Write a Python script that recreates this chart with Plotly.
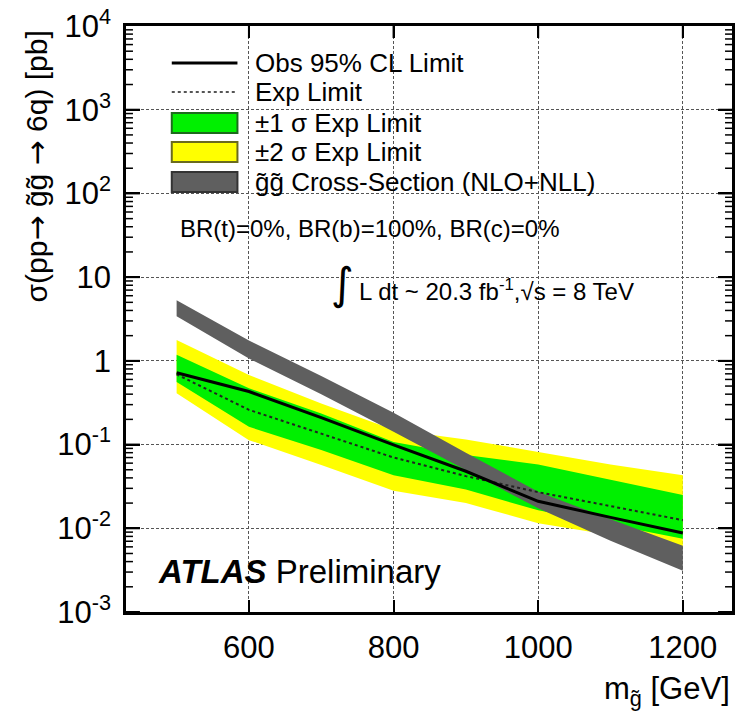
import math
import plotly.graph_objects as go

# ---------------- data ----------------
mass = [500, 600, 700, 800, 900, 1000, 1100, 1200]
obs_limit = [0.72, 0.43, 0.21, 0.099, 0.048, 0.021, 0.0135, 0.0088]
exp_limit = [0.69, 0.26, 0.135, 0.07, 0.042, 0.027, 0.0184, 0.0125]
exp_1s_up = [1.18, 0.47, 0.235, 0.107, 0.075, 0.058, 0.038, 0.025]
exp_1s_dn = [0.56, 0.163, 0.086, 0.043, 0.029, 0.0164, 0.011, 0.0075]
exp_2s_up = [1.78, 0.68, 0.31, 0.15, 0.115, 0.082, 0.058, 0.043]
exp_2s_dn = [0.41, 0.113, 0.057, 0.028, 0.020, 0.0115, 0.0083, 0.006]
xsec_up = [5.3, 1.75, 0.66, 0.24, 0.08, 0.0273, 0.0128, 0.0062]
xsec_dn = [3.4, 1.07, 0.40, 0.142, 0.05, 0.0173, 0.0071, 0.0031]

x_ticks = [600, 800, 1000, 1200]
y_ticks = [1e-3, 1e-2, 1e-1, 1, 10, 1e2, 1e3, 1e4]
y_ticktext = ["10<sup>-3</sup>", "10<sup>-2</sup>", "10<sup>-1</sup>", "1", "10",
              "10<sup>2</sup>", "10<sup>3</sup>", "10<sup>4</sup>"]

legend_labels = ["Obs 95% CL Limit", "Exp Limit", "±1 σ Exp Limit",
                 "±2 σ Exp Limit", "g̃g̃ Cross-Section (NLO+NLL)"]

FONT = "Liberation Sans, Arial, Helvetica, sans-serif"
YELLOW = "#ffff00"
GREEN = "#00f000"
GRAY = "#5f5f5f"

X_RANGE = [430, 1268]
Y_RANGE = [-3, 4]

# plot-area geometry in pixels (for placing text/legend)
W, H = 738, 713
L, R, T, B = 126, 735, 26, 612


def px(x):
    return (x - L) / (R - L)


def py(y):
    return (B - y) / (B - T)


def band(lo, hi, color):
    return go.Scatter(x=mass + mass[::-1], y=hi + lo[::-1], fill="toself",
                      fillcolor=color, line=dict(width=0), mode="lines",
                      hoverinfo="skip", showlegend=False)


fig = go.Figure()
fig.add_trace(band(exp_2s_dn, exp_2s_up, YELLOW))
fig.add_trace(band(exp_1s_dn, exp_1s_up, GREEN))
fig.add_trace(band(xsec_dn, xsec_up, GRAY))
fig.add_trace(go.Scatter(x=mass, y=exp_limit, mode="lines",
                         line=dict(color="#222", width=2, dash="3px,3px"),
                         showlegend=False))
fig.add_trace(go.Scatter(x=mass, y=obs_limit, mode="lines",
                         line=dict(color="black", width=3), showlegend=False))

fig.update_xaxes(range=X_RANGE, tickvals=x_ticks, ticks="inside", ticklen=12,
                 tickwidth=2, tickcolor="black", showline=True, linecolor="black",
                 linewidth=2.5, mirror="allticks", showgrid=True, gridcolor="#555",
                 griddash="3px,2px", gridwidth=1, zeroline=False,
                 tickfont=dict(family=FONT, size=31, color="black"),
                 ticklabelstandoff=6)
fig.update_yaxes(type="log", range=Y_RANGE, tickvals=y_ticks, ticktext=y_ticktext,
                 ticks="inside", ticklen=14, tickwidth=2, tickcolor="black",
                 showline=True, linecolor="black", linewidth=2.5, mirror="allticks",
                 showgrid=True, gridcolor="#555", griddash="3px,2px", gridwidth=1,
                 zeroline=False, tickfont=dict(family=FONT, size=31, color="black"),
                 ticklabelstandoff=6)

shapes = []
annotations = []

# minor (and mirrored major) tick marks of the log y axis, drawn on both frame sides
pw = R - L
for e in range(Y_RANGE[0], Y_RANGE[1]):
    for k in range(1, 10):
        v = k * 10 ** e
        yp = (math.log10(v) - Y_RANGE[0]) / (Y_RANGE[1] - Y_RANGE[0])
        ln = 14 if k == 1 else 7
        wd = 2 if k == 1 else 1.5
        shapes.append(dict(type="line", xref="paper", yref="paper", x0=0,
                           x1=ln / pw, y0=yp, y1=yp, line=dict(color="black", width=wd)))
        shapes.append(dict(type="line", xref="paper", yref="paper", x0=1,
                           x1=1 - ln / pw, y0=yp, y1=yp,
                           line=dict(color="black", width=wd)))
# mirrored x ticks on top frame
for xv in x_ticks:
    xp = (xv - X_RANGE[0]) / (X_RANGE[1] - X_RANGE[0])
    shapes.append(dict(type="line", xref="paper", yref="paper", x0=xp, x1=xp,
                       y0=1, y1=1 - 12 / (B - T), line=dict(color="black", width=2)))

# legend
rows = [63, 92, 123, 152, 182]
x0, x1 = 172, 238
shapes.append(dict(type="line", xref="paper", yref="paper", x0=px(x0), x1=px(x1),
                   y0=py(rows[0]), y1=py(rows[0]), line=dict(color="black", width=3)))
shapes.append(dict(type="line", xref="paper", yref="paper", x0=px(x0), x1=px(x1),
                   y0=py(rows[1]), y1=py(rows[1]),
                   line=dict(color="#555", width=2, dash="3px,3px")))
for r, fc, lc in [(rows[2], GREEN, "#1d6b1d"), (rows[3], YELLOW, "#6b6b1d"),
                  (rows[4], GRAY, "#333")]:
    shapes.append(dict(type="rect", xref="paper", yref="paper", x0=px(x0), x1=px(x1),
                       y0=py(r + 10), y1=py(r - 10), fillcolor=fc,
                       line=dict(color=lc, width=2)))
for r, t in zip(rows, legend_labels):
    annotations.append(dict(x=px(254), y=py(r), xref="paper", yref="paper", text=t,
                            showarrow=False, xanchor="left", yanchor="middle",
                            font=dict(family=FONT, size=26, color="black")))

annotations.append(dict(x=px(178), y=py(228), xref="paper", yref="paper",
                        text="BR(t)=0%, BR(b)=100%, BR(c)=0%", showarrow=False,
                        xanchor="left", yanchor="middle",
                        font=dict(family=FONT, size=24, color="black")))
annotations.append(dict(x=px(344), y=py(283), xref="paper", yref="paper",
                        text="∫", showarrow=False, xanchor="center", yanchor="middle",
                        font=dict(family="DejaVu Sans", size=44, color="black")))
annotations.append(dict(x=px(358), y=py(290), xref="paper", yref="paper",
                        text="L dt ~ 20.3 fb<sup>-1</sup>,√s = 8 TeV", showarrow=False,
                        xanchor="left", yanchor="middle",
                        font=dict(family=FONT, size=24, color="black")))
annotations.append(dict(x=px(156), y=py(571), xref="paper", yref="paper",
                        text="<b><i>ATLAS</i></b> Preliminary", showarrow=False,
                        xanchor="left", yanchor="middle",
                        font=dict(family=FONT, size=33, color="black")))

# axis titles
annotations.append(dict(x=1.0, y=py(691), xref="paper", yref="paper",
                        text="m<sub>g̃</sub> [GeV]", showarrow=False,
                        xanchor="right", yanchor="middle",
                        font=dict(family=FONT, size=31, color="black")))
arrow = "<span style='font-family:DejaVu Sans'>→</span>"
annotations.append(dict(x=px(36), y=py(28), xref="paper", yref="paper",
                        text=f"σ(pp{arrow} g̃g̃ {arrow} 6q) [pb]", textangle=-90,
                        showarrow=False, xanchor="center", yanchor="top",
                        font=dict(family=FONT, size=30, color="black")))

fig.update_layout(width=W, height=H, margin=dict(l=L, r=W - R, t=T, b=H - B),
                  paper_bgcolor="white", plot_bgcolor="white", showlegend=False,
                  shapes=shapes, annotations=annotations)

fig.write_html("out.html")
